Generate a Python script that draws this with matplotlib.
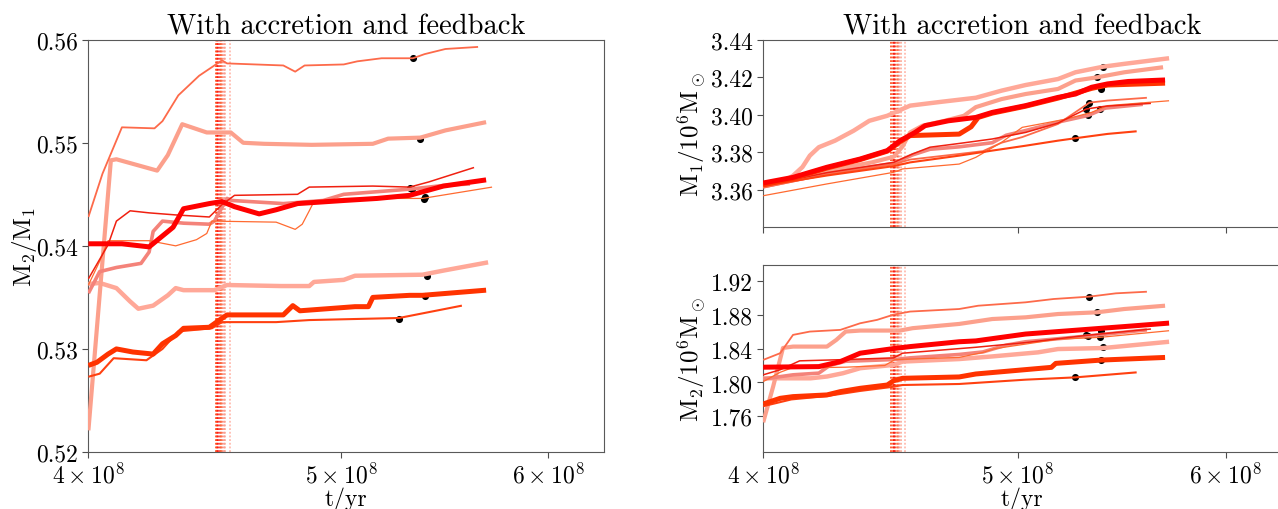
import numpy as np
import matplotlib
matplotlib.use("Agg")
import matplotlib.pyplot as plt
from matplotlib.ticker import NullLocator

plt.rcParams['font.family'] = 'serif'
plt.rcParams['font.serif'] = ['cmr10', 'DejaVu Serif']
plt.rcParams['mathtext.fontset'] = 'cm'
plt.rcParams['axes.unicode_minus'] = False

# times are in units of 1e8 yr
# ---- M2/M1 (left panel) ----
A_q_t = [4.0, 4.05, 4.12, 4.24, 4.27, 4.33, 4.41, 4.47, 4.50, 4.52, 4.75, 4.80, 4.84, 5.01, 5.07, 5.18, 5.325, 5.38, 5.48, 5.64]
A_q = [0.5428, 0.5470, 0.5515, 0.5514, 0.5521, 0.5546, 0.5565, 0.5575, 0.5580, 0.5577, 0.5575, 0.5569, 0.5575, 0.5576, 0.5579, 0.5582, 0.5582, 0.5586, 0.5591, 0.5593]
B_q_t = [4.0, 4.08, 4.10, 4.25, 4.29, 4.345, 4.44, 4.535, 4.585, 4.67, 4.87, 5.14, 5.21, 5.36, 5.48, 5.68]
B_q = [0.5221, 0.5483, 0.5484, 0.5473, 0.5488, 0.5518, 0.5510, 0.5510, 0.5500, 0.5499, 0.5498, 0.5499, 0.5504, 0.5505, 0.5512, 0.5520]
C_q_t = [4.0, 4.12, 4.22, 4.31, 4.35, 4.45, 4.50, 4.55, 4.65, 4.72, 4.81, 5.01, 5.16, 5.31, 5.47, 5.68]
C_q = [0.5402, 0.5402, 0.5399, 0.5418, 0.5436, 0.5441, 0.5443, 0.5438, 0.5431, 0.5435, 0.5441, 0.5444, 0.5446, 0.5449, 0.5458, 0.5464]
D_q_t = [4.0, 4.04, 4.10, 4.19, 4.22, 4.235, 4.27, 4.35, 4.45, 4.47, 4.52, 4.54, 4.75, 4.92, 5.01, 5.31, 5.49, 5.60]
D_q = [0.5354, 0.5375, 0.5379, 0.5383, 0.5394, 0.5414, 0.5424, 0.5422, 0.5421, 0.5424, 0.5446, 0.5444, 0.5441, 0.5444, 0.5450, 0.5455, 0.5459, 0.5460]
E_q_t = [4.0, 4.07, 4.10, 4.15, 4.22, 4.32, 4.45, 4.50, 4.55, 4.81, 4.86, 5.14, 5.31, 5.40, 5.62]
E_q = [0.5368, 0.5401, 0.5424, 0.5434, 0.5432, 0.5430, 0.5428, 0.5440, 0.5449, 0.5450, 0.5457, 0.5458, 0.5457, 0.5462, 0.5476]
F_q_t = [4.0, 4.04, 4.07, 4.22, 4.32, 4.40, 4.44, 4.46, 4.72, 4.80, 4.83, 4.86, 4.88, 5.01, 5.37, 5.71]
F_q = [0.5362, 0.5385, 0.5405, 0.5405, 0.5400, 0.5406, 0.5412, 0.5424, 0.5423, 0.5416, 0.5421, 0.5434, 0.5443, 0.5446, 0.5446, 0.5457]
G_q_t = [4.0, 4.04, 4.10, 4.15, 4.18, 4.235, 4.29, 4.32, 4.35, 4.47, 4.52, 4.74, 4.86, 4.88, 5.01, 5.06, 5.37, 5.47, 5.69]
G_q = [0.5363, 0.5364, 0.5359, 0.5346, 0.5339, 0.5342, 0.5352, 0.5359, 0.5357, 0.5357, 0.5362, 0.5361, 0.5361, 0.5365, 0.5367, 0.5371, 0.5372, 0.5376, 0.5384]
H_q_t = [4.0, 4.03, 4.07, 4.10, 4.16, 4.235, 4.27, 4.32, 4.35, 4.45, 4.49, 4.52, 4.75, 4.79, 4.82, 5.06, 5.12, 5.14, 5.31, 5.37, 5.68]
H_q = [0.5284, 0.5287, 0.5295, 0.5300, 0.5297, 0.5295, 0.5305, 0.5313, 0.5320, 0.5321, 0.5328, 0.5333, 0.5333, 0.5342, 0.5337, 0.5341, 0.5341, 0.5350, 0.5352, 0.5352, 0.5357]
I_q_t = [4.0, 4.04, 4.09, 4.21, 4.27, 4.33, 4.46, 4.50, 4.72, 4.86, 5.26, 5.56]
I_q = [0.5273, 0.5276, 0.5291, 0.5289, 0.5300, 0.5317, 0.5320, 0.5326, 0.5326, 0.5328, 0.5330, 0.5342]

# ---- M1 / 1e6 Msun (top right) ----
A_m1_t = [4.0, 4.23, 4.485, 4.55, 4.75, 4.85, 4.93, 5.02, 5.18, 5.325, 5.41, 5.60]
A_m1 = [3.3610, 3.3680, 3.3735, 3.3760, 3.3790, 3.3805, 3.3850, 3.3880, 3.3950, 3.4064, 3.4075, 3.4090]
B_m1_t = [4.0, 4.23, 4.40, 4.485, 4.52, 4.55, 4.60, 4.69, 4.77, 4.82, 4.93, 5.035, 5.18, 5.26, 5.36, 5.49, 5.68]
B_m1 = [3.3620, 3.3700, 3.3745, 3.3775, 3.3830, 3.3905, 3.3941, 3.3967, 3.3994, 3.4040, 3.4083, 3.4110, 3.4137, 3.4182, 3.4199, 3.4226, 3.4253]
C_m1_t = [4.0, 4.106, 4.23, 4.355, 4.46, 4.49, 4.51, 4.535, 4.57, 4.61, 4.705, 4.82, 4.89, 5.035, 5.18, 5.26, 5.335, 5.41, 5.51, 5.69]
C_m1 = [3.3635, 3.3665, 3.3719, 3.3763, 3.3808, 3.3840, 3.3861, 3.3879, 3.3905, 3.3941, 3.3967, 3.3985, 3.4012, 3.4048, 3.4092, 3.4110, 3.4146, 3.4164, 3.4177, 3.4185]
D_m1_t = [4.0, 4.23, 4.485, 4.56, 4.63, 4.75, 4.89, 4.95, 5.035, 5.18, 5.32, 5.40, 5.58]
D_m1 = [3.3615, 3.3685, 3.3740, 3.3785, 3.3815, 3.3828, 3.3850, 3.3890, 3.3915, 3.3960, 3.3996, 3.4035, 3.4055]
E_m1_t = [4.0, 4.23, 4.485, 4.56, 4.63, 4.75, 4.89, 5.035, 5.18, 5.31, 5.40, 5.62]
E_m1 = [3.3620, 3.3690, 3.3745, 3.3790, 3.3826, 3.3846, 3.3870, 3.3905, 3.3955, 3.4030, 3.4045, 3.4060]
F_m1_t = [4.0, 4.23, 4.485, 4.52, 4.75, 4.82, 4.93, 5.02, 5.14, 5.22, 5.335, 5.41, 5.71]
F_m1 = [3.3567, 3.3630, 3.3692, 3.3710, 3.3736, 3.3772, 3.3852, 3.3932, 3.3959, 3.3977, 3.4012, 3.4048, 3.4074]
G_m1_t = [4.0, 4.08, 4.106, 4.14, 4.167, 4.2, 4.26, 4.33, 4.39, 4.46, 4.55, 4.68, 4.82, 4.93, 5.035, 5.18, 5.26, 5.39, 5.49, 5.71]
G_m1 = [3.3630, 3.3650, 3.3674, 3.3720, 3.3781, 3.3826, 3.3861, 3.3914, 3.3967, 3.3994, 3.4048, 3.4069, 3.4090, 3.4128, 3.4158, 3.4190, 3.4226, 3.4256, 3.4271, 3.4301]
H_m1_t = [4.0, 4.106, 4.23, 4.355, 4.46, 4.51, 4.55, 4.75, 4.80, 4.83, 4.89, 5.035, 5.18, 5.335, 5.41, 5.69]
H_m1 = [3.3625, 3.3660, 3.3715, 3.3760, 3.3805, 3.3855, 3.3888, 3.3896, 3.3935, 3.3985, 3.4008, 3.4045, 3.4088, 3.4140, 3.4158, 3.4168]
I_m1_t = [4.0, 4.23, 4.485, 4.55, 4.75, 4.89, 5.035, 5.18, 5.26, 5.41, 5.55]
I_m1 = [3.3620, 3.3675, 3.3725, 3.3745, 3.3781, 3.3808, 3.3834, 3.3861, 3.3874, 3.3897, 3.3911]

# ---- M2 / 1e6 Msun (bottom right) ----
A_m2_t = [4.0, 4.06, 4.106, 4.167, 4.28, 4.355, 4.42, 4.485, 4.55, 4.75, 4.83, 5.035, 5.16, 5.325, 5.45, 5.60]
A_m2 = [1.8266, 1.8345, 1.8561, 1.8600, 1.8620, 1.8698, 1.8738, 1.8800, 1.8836, 1.8866, 1.8905, 1.8945, 1.8984, 1.9012, 1.9051, 1.9070]
B_m2_t = [4.0, 4.035, 4.07, 4.106, 4.23, 4.265, 4.30, 4.355, 4.51, 4.56, 4.75, 4.89, 5.035, 5.18, 5.36, 5.49, 5.69]
B_m2 = [1.7530, 1.7951, 1.8407, 1.8423, 1.8423, 1.8502, 1.8600, 1.8612, 1.8612, 1.8640, 1.8690, 1.8748, 1.8768, 1.8807, 1.8827, 1.8866, 1.8905]
C_m2_t = [4.0, 4.2, 4.28, 4.355, 4.485, 4.55, 4.75, 4.82, 5.035, 5.335, 5.49, 5.71]
C_m2 = [1.8180, 1.8187, 1.8246, 1.8345, 1.8400, 1.8423, 1.8480, 1.8490, 1.8571, 1.8630, 1.8659, 1.8700]
D_m2_t = [4.0, 4.106, 4.20, 4.24, 4.30, 4.485, 4.55, 4.75, 4.85, 4.95, 5.035, 5.32, 5.60]
D_m2 = [1.8040, 1.8090, 1.8110, 1.8200, 1.8250, 1.8270, 1.8290, 1.8330, 1.8360, 1.8440, 1.8480, 1.8549, 1.8620]
E_m2_t = [4.0, 4.06, 4.13, 4.30, 4.485, 4.52, 4.82, 5.035, 5.31, 5.62]
E_m2 = [1.8090, 1.8150, 1.8255, 1.8270, 1.8290, 1.8345, 1.8415, 1.8470, 1.8555, 1.8630]
F_m2_t = [4.0, 4.06, 4.10, 4.30, 4.45, 4.49, 4.75, 4.85, 4.90, 5.18, 5.375, 5.71]
F_m2 = [1.8010, 1.8120, 1.8170, 1.8180, 1.8200, 1.8270, 1.8295, 1.8354, 1.8398, 1.8510, 1.8532, 1.8610]
G_m2_t = [4.0, 4.17, 4.23, 4.29, 4.355, 4.485, 4.52, 4.75, 4.89, 5.09, 5.18, 5.39, 5.71]
G_m2 = [1.8049, 1.8049, 1.8070, 1.8109, 1.8168, 1.8207, 1.8246, 1.8276, 1.8307, 1.8355, 1.8394, 1.8406, 1.8480]
H_m2_t = [4.0, 4.06, 4.106, 4.23, 4.28, 4.355, 4.46, 4.485, 4.52, 4.75, 4.82, 5.15, 5.17, 5.38, 5.69]
H_m2 = [1.7746, 1.7813, 1.7833, 1.7853, 1.7892, 1.7931, 1.7970, 1.8021, 1.8049, 1.8065, 1.8100, 1.8178, 1.8225, 1.8264, 1.8295]
I_m2_t = [4.0, 4.10, 4.23, 4.355, 4.485, 4.52, 4.75, 5.035, 5.26, 5.55]
I_m2 = [1.7720, 1.7800, 1.7840, 1.7900, 1.7950, 1.7970, 1.7982, 1.8033, 1.8060, 1.8119]

# black dots (time, M2/M1, M1, M2)
dot_t = [5.325, 5.36, 5.38, 5.32, 5.31, 5.375, 5.39, 5.38, 5.26]
dot_q = [0.5582, 0.5504, 0.5447, 0.5455, 0.5456, 0.5445, 0.5371, 0.5351, 0.5329]
dot_m1 = [3.4064, 3.4199, 3.4137, 3.3996, 3.4032, 3.4030, 3.4256, 3.4150, 3.3874]
dot_m2 = [1.9012, 1.8827, 1.8611, 1.8549, 1.8555, 1.8532, 1.8413, 1.8263, 1.8060]

# times marked by dotted vertical lines
vline_t = [4.476, 4.481, 4.486, 4.491, 4.497, 4.502, 4.507, 4.513, 4.530]
vline_colors = ['#ff3300', '#ff4010', '#ff0000', '#f02010', '#ff6a30', '#fd6a4a', '#f4837a', '#fca08c', '#ffb0a2']

colors = {'A': '#fd6a4a', 'B': '#fca08c', 'C': '#ff0000', 'D': '#f4837a', 'E': '#f02010',
          'F': '#ff6a30', 'G': '#ffa898', 'H': '#ff3300', 'I': '#ff4010'}
widths = {'A': 1.3, 'B': 3.0, 'C': 3.6, 'D': 2.6, 'E': 1.1, 'F': 0.9, 'G': 3.2, 'H': 3.6, 'I': 1.5}
order = ['G', 'B', 'D', 'A', 'F', 'E', 'I', 'H', 'C']

data = globals()

W, H = 1278, 510
fig = plt.figure(figsize=(W / 100, H / 100), dpi=100)
ax_q = fig.add_axes([88.4 / W, 1 - 453 / H, 515.2 / W, 412.3 / H])
ax_m1 = fig.add_axes([763.2 / W, 1 - 228 / H, 518 / W, 187.3 / H])
ax_m2 = fig.add_axes([763.2 / W, 1 - 453 / H, 518 / W, 187 / H])

panels = [(ax_q, 'q', dot_q), (ax_m1, 'm1', dot_m1), (ax_m2, 'm2', dot_m2)]
for ax, key, dots in panels:
    for t, c in zip(vline_t, vline_colors):
        ax.axvline(t * 1e8, color=c, ls=(0, (1.2, 1.2)), lw=1.1, zorder=1)
    ax.scatter(np.array(dot_t) * 1e8, dots, s=26, color='k', zorder=2, lw=0)
    for r in order:
        ax.plot(np.array(data[r + '_' + key + '_t']) * 1e8, data[r + '_' + key],
                color=colors[r], lw=widths[r], zorder=3, solid_capstyle='butt')
    ax.set_xscale('log')
    ax.set_xlim(4e8, 6.3e8)
    ax.set_xticks([4e8, 5e8, 6e8])
    ax.set_xticklabels([r'$4\times10^{8}$', r'$5\times10^{8}$', r'$6\times10^{8}$'])
    ax.xaxis.set_minor_locator(NullLocator())
    ax.tick_params(labelsize=17, length=4, color='0.3')
    for s in ax.spines.values():
        s.set_color('0.35')

ax_q.set_ylim(0.52, 0.56)
ax_q.set_yticks([0.52, 0.53, 0.54, 0.55, 0.56])
ax_q.set_yticklabels(['0.52', '0.53', '0.54', '0.55', '0.56'])
ax_q.set_ylabel(r'$\mathrm{M_2/M_1}$', fontsize=18, labelpad=-2)
ax_q.set_xlabel('t/yr', fontsize=17, labelpad=-1)
ax_q.set_title('With accretion and feedback', fontsize=20.5, pad=4)

ax_m1.set_ylim(3.34, 3.44)
ax_m1.set_yticks([3.36, 3.38, 3.40, 3.42, 3.44])
ax_m1.set_yticklabels(['3.36', '3.38', '3.40', '3.42', '3.44'])
ax_m1.set_xticklabels([])
ax_m1.set_ylabel(r'$\mathrm{M_1/10^6M_\odot}$', fontsize=18, labelpad=2)
ax_m1.set_title('With accretion and feedback', fontsize=20.5, pad=4)

ax_m2.set_ylim(1.718, 1.9385)
ax_m2.set_yticks([1.76, 1.80, 1.84, 1.88, 1.92])
ax_m2.set_yticklabels(['1.76', '1.80', '1.84', '1.88', '1.92'])
ax_m2.set_ylabel(r'$\mathrm{M_2/10^6M_\odot}$', fontsize=18, labelpad=2)
ax_m2.set_xlabel('t/yr', fontsize=17, labelpad=-1)

fig.savefig('out.png', dpi=100)
